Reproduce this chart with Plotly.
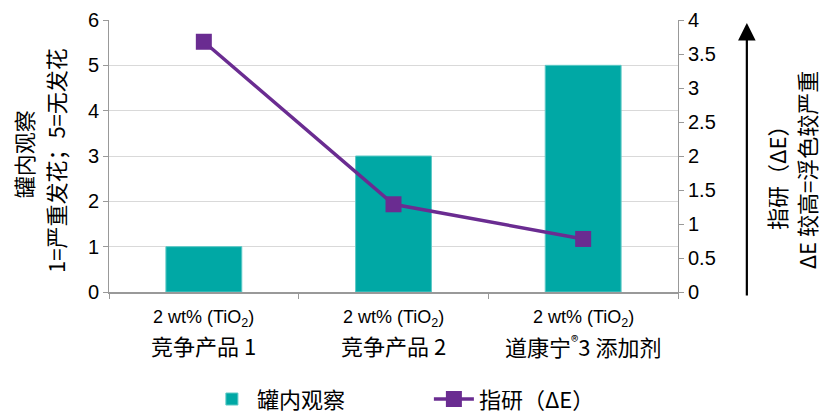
import plotly.graph_objects as go

categories = ["竞争产品 1", "竞争产品 2", "道康宁<sup>®</sup>3 添加剂"]
sub_labels = ["2 wt% (TiO<sub>2</sub>)", "2 wt% (TiO<sub>2</sub>)", "2 wt% (TiO<sub>2</sub>)"]
incan_values = [1, 3, 5]
rub_values = [3.68, 1.29, 0.78]
left_ticks = [0, 1, 2, 3, 4, 5, 6]
right_ticks = [0, 0.5, 1, 1.5, 2, 2.5, 3, 3.5, 4]
right_tick_text = ["0", "0.5", "1", "1.5", "2", "2.5", "3", "3.5", "4"]

FONT = "Arial, 'Liberation Sans', 'Noto Sans CJK SC', sans-serif"
CJK = "'Noto Sans CJK SC', Arial, sans-serif"
TEAL = "#00A8A5"
PURPLE = "#6A2C91"

fig = go.Figure()
fig.add_trace(go.Bar(
    x=categories, y=incan_values, name="罐内观察",
    marker=dict(color=TEAL, line=dict(color="#5cc9c6", width=1)),
    width=0.4, yaxis="y",
))
fig.add_trace(go.Scatter(
    x=categories, y=rub_values, name="指研（ΔE）", mode="lines+markers",
    line=dict(color=PURPLE, width=3.5),
    marker=dict(symbol="square", size=16, color=PURPLE),
    yaxis="y2",
))

annotations = []
for c, s in zip(categories, sub_labels):
    annotations.append(dict(x=c, y=-0.096, xref="x", yref="paper", text=s, showarrow=False,
                            font=dict(family=FONT, size=18, color="#000"), xanchor="center", yanchor="middle"))
    annotations.append(dict(x=c, y=-0.195, xref="x", yref="paper", text=c, showarrow=False,
                            font=dict(family=CJK, size=22, color="#000"), xanchor="center", yanchor="middle"))

annotations += [
    dict(x=-0.151, y=0.507, xref="paper", yref="paper", text="罐内观察", textangle=-90, showarrow=False,
         font=dict(family=CJK, size=22, color="#000"), xanchor="center", yanchor="middle"),
    dict(x=-0.095, y=0.485, xref="paper", yref="paper", text="1=严重发花；5=无发花", textangle=-90, showarrow=False,
         font=dict(family=CJK, size=22, color="#000"), xanchor="center", yanchor="middle"),
    dict(x=1.172, y=0.441, xref="paper", yref="paper", text="指研（ΔE）", textangle=-90, showarrow=False,
         font=dict(family=CJK, size=22, color="#000"), xanchor="center", yanchor="middle"),
    dict(x=1.224, y=0.449, xref="paper", yref="paper", text="ΔE 较高=浮色较严重", textangle=-90, showarrow=False,
         font=dict(family=CJK, size=22, color="#000"), xanchor="center", yanchor="middle"),
    dict(x=1.121, y=(292 - 23) / 272, xref="paper", yref="paper", ax=0, ay=274, text="",
         showarrow=True, arrowhead=2, arrowsize=1.6, arrowwidth=2.2, arrowcolor="#000"),
]

fig.update_layout(
    width=821, height=415,
    margin=dict(l=109, r=143, t=20, b=123, autoexpand=False),
    plot_bgcolor="white", paper_bgcolor="white",
    font=dict(family=FONT, size=20, color="#000"),
    showlegend=True,
    legend=dict(orientation="h", x=0.252, y=0.038, xref="container", yref="container",
                xanchor="left", yanchor="middle",
                font=dict(family=CJK, size=22, color="#000"), entrywidth=167, itemwidth=40,
                bgcolor="rgba(0,0,0,0)"),
    xaxis=dict(type="category", range=[-0.5, 2.5], showticklabels=False, ticks="outside",
               tickson="boundaries", ticklen=5, tickcolor="#999", showline=True, linecolor="#999",
               linewidth=1.5, showgrid=False, automargin=False),
    yaxis=dict(range=[0, 6], tickvals=left_ticks, ticks="outside", ticklen=5, tickcolor="#999",
               showline=True, linecolor="#999", linewidth=1, showgrid=True, gridcolor="#d9d9d9",
               gridwidth=1.2, zeroline=False, tickfont=dict(size=20), automargin=False),
    yaxis2=dict(range=[0, 4], tickvals=right_ticks, ticktext=right_tick_text, overlaying="y",
                side="right", ticks="outside", ticklen=5, tickcolor="#999", showline=True,
                linecolor="#999", linewidth=1, showgrid=False, zeroline=False, tickfont=dict(size=20),
                automargin=False),
    annotations=annotations,
)

fig.write_html(
    "out.html",
    config={"displayModeBar": False},
    post_script="document.body.style.margin='0';document.body.style.overflow='hidden';",
)
